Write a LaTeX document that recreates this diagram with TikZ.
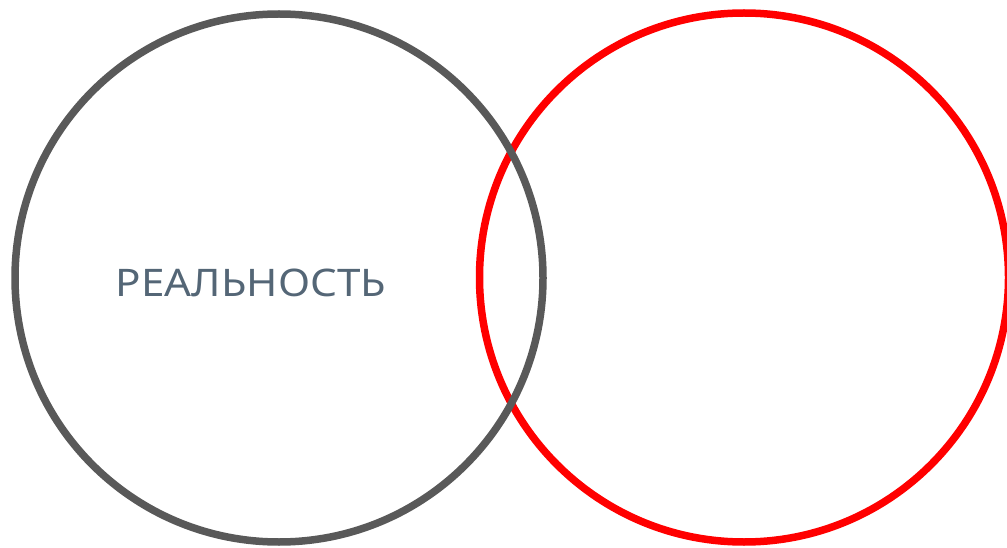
\documentclass[tikz,border=0pt]{standalone}
\usepackage{fontspec}
\setmainfont{Noto Sans}
\usepackage{tikz}
\usetikzlibrary{positioning}
\definecolor{ringgray}{HTML}{595959}
\definecolor{ringred}{HTML}{FF0000}
\definecolor{labelblue}{HTML}{546676}

\begin{document}
\begin{tikzpicture}[x=1pt, y=-1pt,
  ring/.style={circle, draw, line width=7.5pt, inner sep=0pt},
  lbl/.style={font=\fontsize{38}{42}\selectfont, text=labelblue}]
  \useasboundingbox (0,0) rectangle (1007,548);
  \node[ring, draw=ringred, minimum size=529pt] (fantasy) at (744,277.5) {};
  \node[ring, draw=ringgray, minimum size=528pt] (reality) at (279,278) {};
  \node[lbl] (realtxt) at (251,283) {\scalebox{1.11}[1]{РЕАЛЬНОСТЬ}};
\end{tikzpicture}
\end{document}
